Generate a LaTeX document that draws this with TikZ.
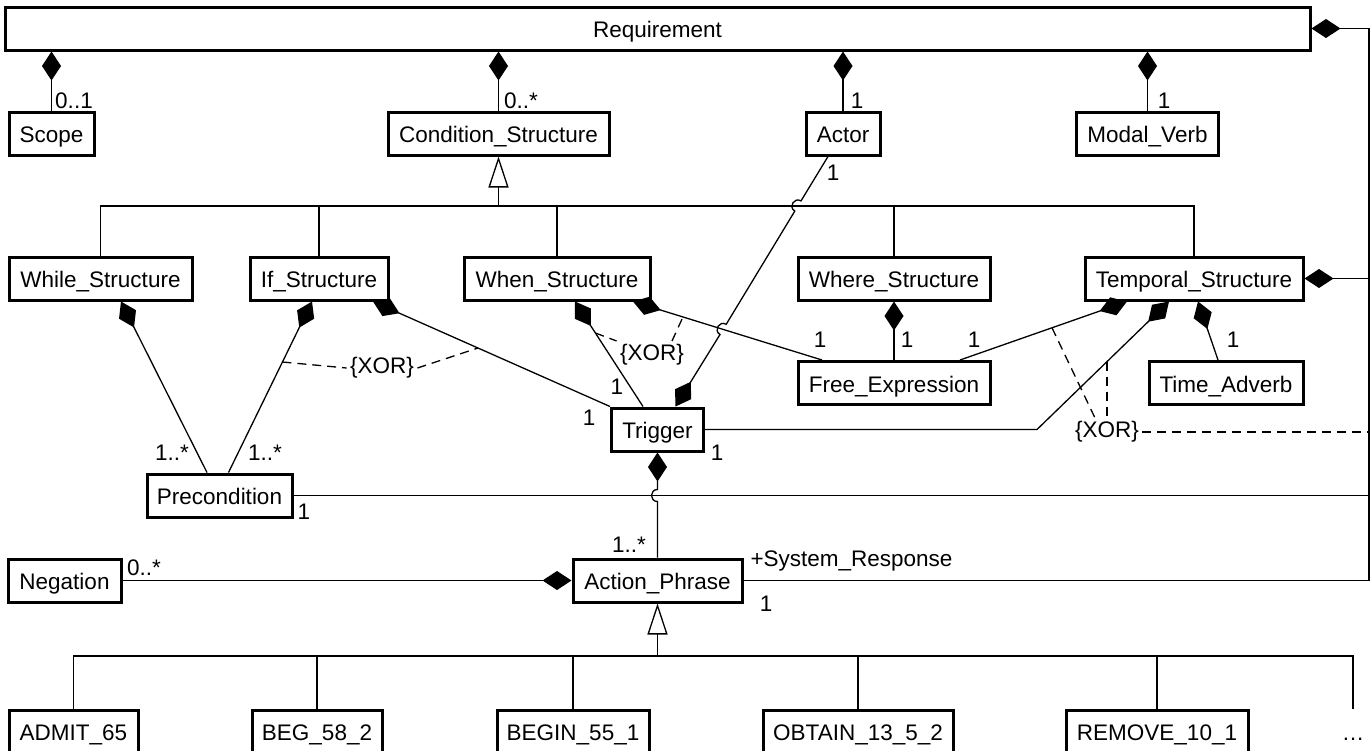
\documentclass[tikz,border=0pt]{standalone}
\usepackage{fontspec}
\setmainfont{Liberation Sans}
\usetikzlibrary{arrows.meta}

\begin{document}
\begin{tikzpicture}[x=1pt,y=-1pt,font=\fontsize{22.5}{26}\selectfont,
	cls/.style={shape=rectangle,draw=black,line width=3pt,minimum height=43pt,inner sep=0pt,text height=18pt,text depth=0pt},
	assoc/.style={line width=1.3pt},
	comp/.style={{Diamond[length=29pt,width=19pt]}-,line width=1.3pt},
	gen/.style={-{Triangle[open,fill=white,length=31pt,width=20pt]},line width=1.3pt},
	xorline/.style={dash pattern=on 9pt off 6pt,line width=1.3pt}]
	\clip (0,0) rectangle (1371,750);

	\node [cls,minimum width=1305pt] (req) at (657.5,28.5) {Requirement};
	\node [cls,minimum width=85pt] (scope) at (51.5,133.5) {Scope};
	\node [cls,minimum width=221pt] (cond) at (498.5,133.5) {Condition\_Structure};
	\node [cls,minimum width=74pt] (actor) at (843,133.5) {Actor};
	\node [cls,minimum width=142pt] (modal) at (1147.5,133.5) {Modal\_Verb};
	\node [cls,minimum width=183pt] (while) at (100.5,278.5) {While\_Structure};
	\node [cls,minimum width=138pt] (ifs) at (319,278.5) {If\_Structure};
	\node [cls,minimum width=186pt] (when) at (557,278.5) {When\_Structure};
	\node [cls,minimum width=192pt] (where) at (894,278.5) {Where\_Structure};
	\node [cls,minimum width=218pt] (temp) at (1194,278.5) {Temporal\_Structure};
	\node [cls,minimum width=192pt] (free) at (894,383) {Free\_Expression};
	\node [cls,minimum width=154pt] (adv) at (1226,383) {Time\_Adverb};
	\node [cls,minimum width=92pt] (trig) at (657.5,429.5) {Trigger};
	\node [cls,minimum width=145pt] (pre) at (219.5,495.5) {Precondition};
	\node [cls,minimum width=113pt] (neg) at (64.5,580.5) {Negation};
	\node [cls,minimum width=169pt] (act) at (657.5,580.5) {Action\_Phrase};
	\node [cls,minimum width=129pt] (admit) at (73.5,731.5) {ADMIT\_65};
	\node [cls,minimum width=130pt] (beg) at (317,731.5) {BEG\_58\_2};
	\node [cls,minimum width=152pt] (begin) at (573,731.5) {BEGIN\_55\_1};
	\node [cls,minimum width=190pt] (obtain) at (858,731.5) {OBTAIN\_13\_5\_2};
	\node [cls,minimum width=182pt] (remove) at (1157,731.5) {REMOVE\_10\_1};
	\node [cls,draw=none] (dots) at (1353,731.5) {\dots};

	\coordinate (cbus) at (498.5,206);
	\coordinate (abus) at (657.5,656);
	\coordinate (rc) at (1369,580.5);

	\foreach \n in {scope,cond,actor,modal}
		\draw [comp] (req.south -| \n.north) -- (\n.north);

	\draw [gen] (cbus) -- (cond.south);
	\draw [assoc] (while.north) |- (cbus) -| (temp.north);
	\foreach \n in {ifs,when,where}
		\draw [assoc] (\n.north) -- (\n.north |- cbus);

	\draw [comp] ([xshift=20.5pt]while.south) -- ([xshift=-12.5pt]pre.north);
	\draw [comp] ([xshift=-7pt]ifs.south) -- ([xshift=9pt]pre.north);
	\draw [comp] ([xshift=54pt]ifs.south) -- (trig.north west);
	\draw [comp] ([xshift=18pt]when.south) -- ([xshift=-14.5pt]trig.north);
	\draw [comp] ([xshift=76pt]when.south) -- ([xshift=-72pt]free.north);
	\draw [comp] (where.south) -- (free.north);
	\draw [comp] ([xshift=-67pt]temp.south) -- ([xshift=66pt]free.north);
	\draw [comp] ([xshift=-25pt]temp.south) -- (1037,429.5) -- (trig.east);
	\draw [comp] ([xshift=4pt]temp.south) -- ([xshift=-8pt]adv.north);
	\draw [comp] ([xshift=18pt]trig.north) -- (720.0,334.5) .. controls (713.2,330.4) and (719.4,320.2) .. (726.2,324.3)
		-- (794.8,211.1) .. controls (788.0,207.0) and (794.2,196.8) .. (801.0,200.9) -- ([xshift=-15pt]actor.south);
	\draw [comp] (trig.south) -- (657.5,489.5) .. controls (649.5,489.5) and (649.5,501.5) .. (657.5,501.5) -- (act.north);

	\draw [comp] (req.east) -| (rc) -- (act.east);
	\draw [comp] (temp.east) -- (temp.east -| rc);
	\draw [assoc] (pre.east) -- (pre.east -| rc);
	\draw [comp] (act.west) -- (neg.east);

	\draw [gen] (abus) -- (act.south);
	\draw [assoc] (admit.north) |- (abus) -| (dots.north);
	\foreach \n in {beg,begin,obtain,remove}
		\draw [assoc] (\n.north) -- (\n.north |- abus);

	\node (xor1) at (382,368) {\{XOR\}};
	\node (xor2) at (652,355) {\{XOR\}};
	\node (xor3) at (1107,432) {\{XOR\}};
	\draw [xorline] (282.4,362) -- (xor1.west);
	\draw [xorline] (xor1.east) -- (478,348);
	\draw [xorline] (595.4,333) -- (xor2.north west);
	\draw [xorline] ([xshift=20pt]xor2.north) -- (683,316.9);
	\draw [xorline] (1052,327.8) -- ([xshift=-12pt]xor3.north);
	\draw [xorline] (1107,361.5) -- (xor3.north);
	\draw [xorline] (xor3.east) -- (xor3.east -| rc);

	\node (m1) at (74,101) {0..1};
	\node (m2) at (521,101) {0..*};
	\node (m3) at (857,101) {1};
	\node (m4) at (1164,101) {1};
	\node (m5) at (833,173) {1};
	\node (m6) at (172,453) {1..*};
	\node (m7) at (265,453) {1..*};
	\node (m8) at (589,418) {1};
	\node (m9) at (617,387) {1};
	\node (m10) at (820,340) {1};
	\node (m11) at (907,340) {1};
	\node (m12) at (974,340) {1};
	\node (m13) at (1233,340) {1};
	\node (m14) at (717,453) {1};
	\node (m15) at (304,512) {1};
	\node (m16) at (629,545) {1..*};
	\node (m17) at (144,568) {0..*};
	\node [anchor=base west] (role) at (747,566) {+System\_Response};
	\node (m18) at (766,604) {1};
\end{tikzpicture}
\end{document}
